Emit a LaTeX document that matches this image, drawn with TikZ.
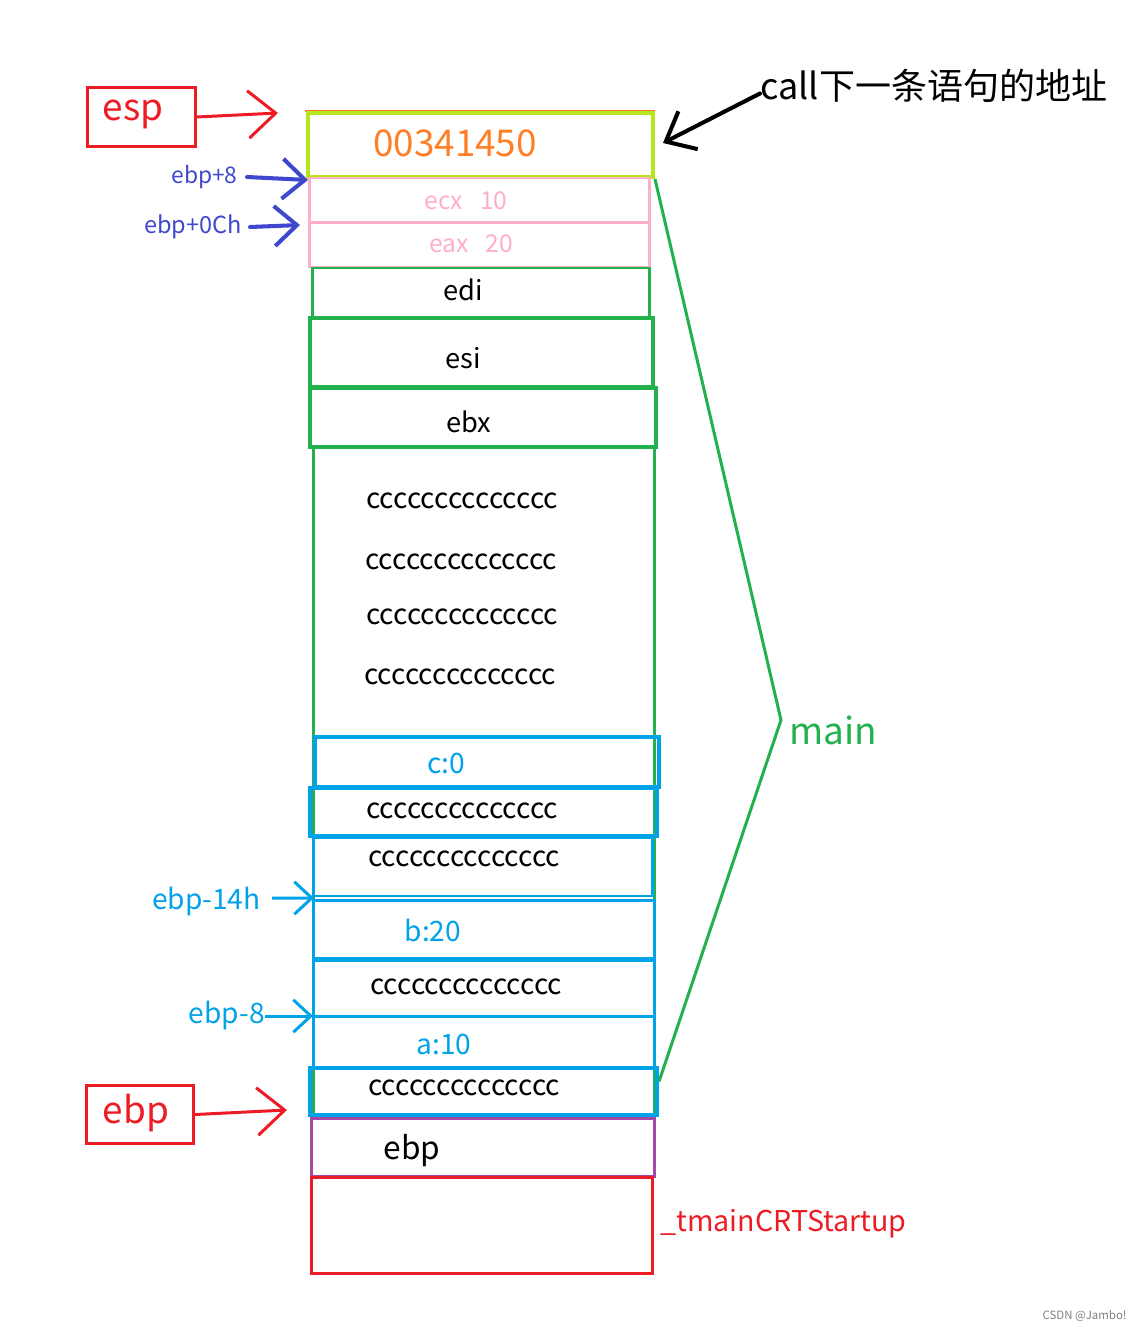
\documentclass[tikz,border=0pt]{standalone}
\usepackage{fontspec}
\setmainfont{Noto Sans CJK SC}
\usetikzlibrary{arrows.meta}
\definecolor{mspred}{HTML}{ED1C24}
\definecolor{msporange}{HTML}{FF7F27}
\definecolor{msplime}{HTML}{B5E61D}
\definecolor{msppink}{HTML}{FFAEC9}
\definecolor{mspgreen}{HTML}{22B14C}
\definecolor{mspblue}{HTML}{00A2E8}
\definecolor{msppurple}{HTML}{A349A4}
\definecolor{mspindigo}{HTML}{3F48CC}

\begin{document}
\begin{tikzpicture}[x=0.02cm, y=-0.02cm, every node/.style={inner sep=0pt}]
    \tikzset{cell/.style={draw,line width=1.7pt,minimum width=6.84cm},
             val/.style={font=\fontsize{16}{18}\selectfont},
             reg/.style={font=\fontsize{15.5}{18}\selectfont},
             tag/.style={draw=mspred,line width=1.7pt,minimum width=2.15cm,minimum height=1.17cm},
             bigtxt/.style={font=\fontsize{21}{24}\selectfont},
             barb/.style={line width=#1,line cap=round,-{Straight Barb[length=0.55cm,width=0.95cm,line width=#1]}}}
    \useasboundingbox (0,0) rectangle (1141,1331);

    % return address and the two arguments
    \draw[msporange,line width=1.1pt] (305,111) -- (655,111);
    \node[cell,draw=msplime,line width=2.3pt,minimum width=6.9cm,minimum height=1.28cm] (ret) at (480.5,145) {};
    \node[bigtxt,text=msporange] (retval) at (455,143) {00341450};
    \node[cell,draw=msppink,minimum width=6.82cm,minimum height=0.88cm] (ecx) at (479.5,200) {};
    \node[text=msppink,font=\fontsize{14}{16}\selectfont] (ecxval) at (466,201) {ecx\hspace{0.7em}10};
    \node[cell,draw=msppink,minimum width=6.82cm,minimum height=0.88cm] (eax) at (479.5,245) {};
    \node[text=msppink,font=\fontsize{14}{16}\selectfont] (eaxval) at (471,244) {eax\hspace{0.7em}20};

    % saved registers
    \node[cell,draw=mspgreen,minimum width=6.76cm,minimum height=0.98cm] (edi) at (481,292.5) {};
    \node[reg] (edival) at (463,290) {edi};
    \node[cell,draw=mspgreen,line width=2.3pt,minimum width=6.86cm,minimum height=1.38cm] (esi) at (481.5,352.5) {};
    \node[reg] (esival) at (463,358) {esi};
    \node[cell,draw=mspgreen,line width=2.3pt,minimum width=6.92cm,minimum height=1.18cm] (ebx) at (483,417.5) {};
    \node[reg] (ebxval) at (469,422) {ebx};

    % main frame
    \node[cell,draw=mspgreen,minimum height=13.42cm] (frame) at (484,782.5) {};
    \node[val] (fill1) at (462,501) {cccccccccccccc};
    \node[val] (fill2) at (461,562) {cccccccccccccc};
    \node[val] (fill3) at (462,617) {cccccccccccccc};
    \node[val] (fill4) at (460,677) {cccccccccccccc};

    % locals
    \node[cell,draw=mspblue,line width=2.3pt,minimum width=6.88cm,minimum height=1.0cm] (c) at (487,762) {};
    \node[val,text=mspblue] (cval) at (446,763) {c:0};
    \node[cell,draw=mspblue,line width=2.3pt,minimum width=6.94cm,minimum height=0.96cm] (pad1) at (483.5,812) {};
    \node[val] (pad1val) at (462,811) {cccccccccccccc};
    \node[cell,draw=mspblue,minimum width=6.8cm,minimum height=1.18cm] (pad2) at (483,866.5) {};
    \node[val] (pad2val) at (464,859) {cccccccccccccc};
    \node[cell,draw=mspblue,minimum height=1.16cm] (b) at (484,929) {};
    \node[val,text=mspblue] (bval) at (433,930) {b:20};
    \node[cell,draw=mspblue,minimum height=1.12cm] (pad3) at (484,988) {};
    \node[val] (pad3val) at (466,987) {cccccccccccccc};
    \node[cell,draw=mspblue,minimum height=1.04cm] (a) at (484,1042) {};
    \node[val,text=mspblue] (aval) at (444,1044) {a:10};
    \node[cell,draw=mspblue,line width=2.3pt,minimum width=6.94cm,minimum height=0.94cm] (pad4) at (483.5,1091.5) {};
    \node[val] (pad4val) at (464,1088) {cccccccccccccc};

    % caller side
    \node[cell,draw=msppurple,minimum width=6.88cm,minimum height=1.16cm] (oldebp) at (483,1147) {};
    \node[font=\fontsize{18}{20}\selectfont] (oldebpval) at (412,1151) {ebp};
    \node[cell,draw=mspred,minimum height=1.92cm] (crt) at (482,1225) {};
    \node[val,text=mspred,anchor=west,font=\fontsize{16.3}{18}\selectfont] (crtname) at (660,1224) {\_tmainCRTStartup};

    % pointers
    \node[tag] (esp) at (141.5,117) {};
    \node[bigtxt,text=mspred] (espname) at (133,114) {esp};
    \node[tag] (ebp) at (140,1114.5) {};
    \node[bigtxt,text=mspred] (ebpname) at (136,1113) {ebp};
    \coordinate (esphit) at (278,113);
    \coordinate (ebphit) at (287,1110);
    \draw[barb=1.7pt,mspred] (esp.east) -- (esphit);
    \draw[barb=1.7pt,mspred] (ebp.east) -- (ebphit);

    \node[text=mspindigo,anchor=east,font=\fontsize{13}{15}\selectfont] (arg1) at (238,177) {ebp+8};
    \node[text=mspindigo,anchor=east,font=\fontsize{13.4}{15}\selectfont] (arg2) at (242,227) {ebp+0Ch};
    \coordinate (arg1hit) at (308,180);
    \coordinate (arg2hit) at (300,225);
    \draw[mspindigo,line width=2.3pt,line cap=round,-{Straight Barb[length=0.45cm,width=0.8cm,line width=2.3pt]}] ([xshift=0.18cm]arg1.east) -- (arg1hit);
    \draw[mspindigo,line width=2.3pt,line cap=round,-{Straight Barb[length=0.45cm,width=0.8cm,line width=2.3pt]}] ([xshift=0.16cm]arg2.east) -- (arg2hit);

    \node[val,text=mspblue,anchor=east] (bptr) at (261,902) {ebp-14h};
    \node[val,text=mspblue,anchor=east] (aptr) at (265,1016) {ebp-8};
    \coordinate (bhit) at (314,898);
    \coordinate (ahit) at (313,1016);
    \draw[mspblue,line width=1.7pt,-{Straight Barb[length=0.35cm,width=0.65cm,line width=1.7pt]}] ([xshift=0.22cm,yshift=0.08cm]bptr.east) -- (bhit);
    \draw[mspblue,line width=1.7pt,-{Straight Barb[length=0.35cm,width=0.65cm,line width=1.7pt]}] (aptr.east) -- (ahit);

    % notes on the right
    \node[bigtxt,anchor=west,font=\fontsize{20.5}{24}\selectfont] (callnote) at (760,86) {call下一条语句的地址};
    \draw[black,line width=2.3pt,line cap=round,-{Straight Barb[length=0.5cm,width=0.85cm,line width=2.3pt]}] ([yshift=-0.15cm]callnote.west) -- (663,143);

    \coordinate (maintip) at (781,720);
    \node[bigtxt,text=mspgreen,anchor=west] (mainname) at (789,730) {main};
    \draw[mspgreen,line width=1.7pt] (ret.south east) -- (maintip) -- ([yshift=0.2cm]pad4.east);

    \node[text=gray,anchor=east,font=\fontsize{6.5}{8}\selectfont] (mark) at (1127,1316) {CSDN @Jambo!};
\end{tikzpicture}
\end{document}
